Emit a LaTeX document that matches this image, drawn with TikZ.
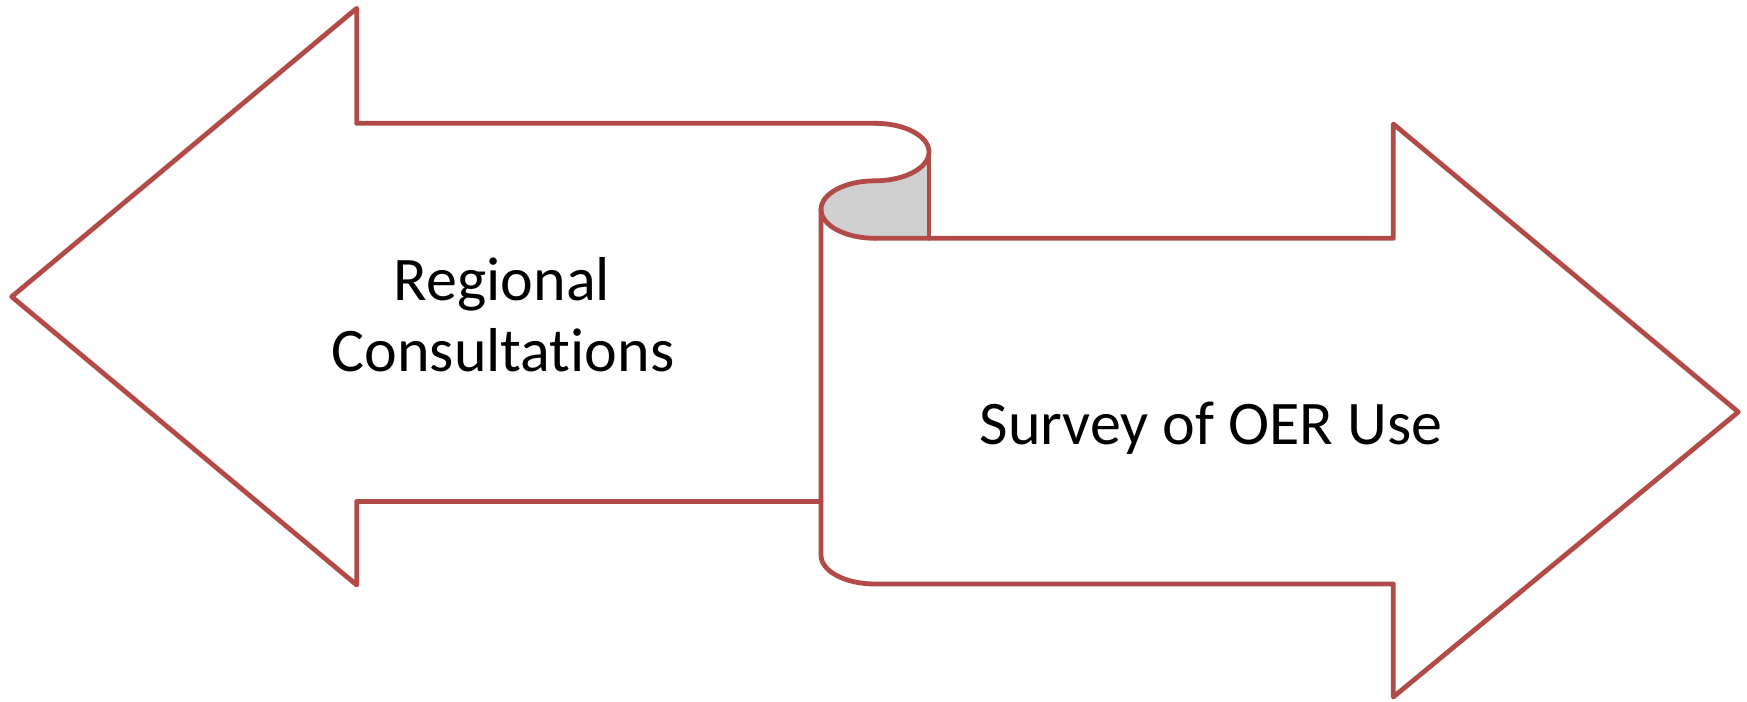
\documentclass[tikz,border=0pt]{standalone}
\usepackage{fontspec}
\setmainfont{Carlito}[RawFeature={-liga;-clig}]
\definecolor{edge}{RGB}{178,75,72}
\definecolor{curlgray}{RGB}{207,207,207}
\begin{document}
\begin{tikzpicture}[x=1pt,y=-1pt,
  outline/.style={draw=edge,line width=4.8pt,line join=round,line cap=round},
  lbl/.style={font=\fontsize{62}{71}\selectfont, inner sep=0pt, anchor=base, text=black}]
\useasboundingbox (0,0) rectangle (1747,701);
\fill[white] (0,0) rectangle (1747,701);
% key points
\coordinate (LT) at (875,123.3);
\coordinate (LR) at (929,152);
\coordinate (MID) at (875,180.8);
\coordinate (CL) at (821,209.5);
\coordinate (RB) at (875,238.3);
\coordinate (VB) at (929,238.3);
% grey curl
\fill[curlgray] (LR) -- (VB) -- (RB) .. controls (845.2,238.3) and (821,225.4) .. (CL)
  .. controls (821,193.6) and (845.2,180.8) .. (MID)
  .. controls (904.8,180.8) and (929,167.9) .. (LR) -- cycle;
% left arrow
\draw[outline] (LT) -- (356.7,123.3) -- (356.7,8.3) -- (11.7,296.7) -- (356.7,585) -- (356.7,501.4) -- (821,501.4);
% curl outline
\draw[outline] (LT) .. controls (904.8,123.3) and (929,136.1) .. (LR)
  .. controls (929,167.9) and (904.8,180.8) .. (MID)
  .. controls (845.2,180.8) and (821,193.6) .. (CL)
  .. controls (821,225.4) and (845.2,238.3) .. (RB);
\draw[outline] (LR) -- (VB);
% right arrow
\draw[outline] (RB) -- (1393.3,238.3) -- (1393.3,124) -- (1738.3,412) -- (1393.3,697) -- (1393.3,584) -- (875,584)
  .. controls (845.2,584) and (821,571.2) .. (821,555.3) -- (CL);
% labels
\node[lbl] (reg) at (502,300) {Regional};
\node[lbl] (cons) at (503,371) {Consultations};
\node[lbl] (survey) at (1211,444) {Survey of OER Use};
\end{tikzpicture}
\end{document}
